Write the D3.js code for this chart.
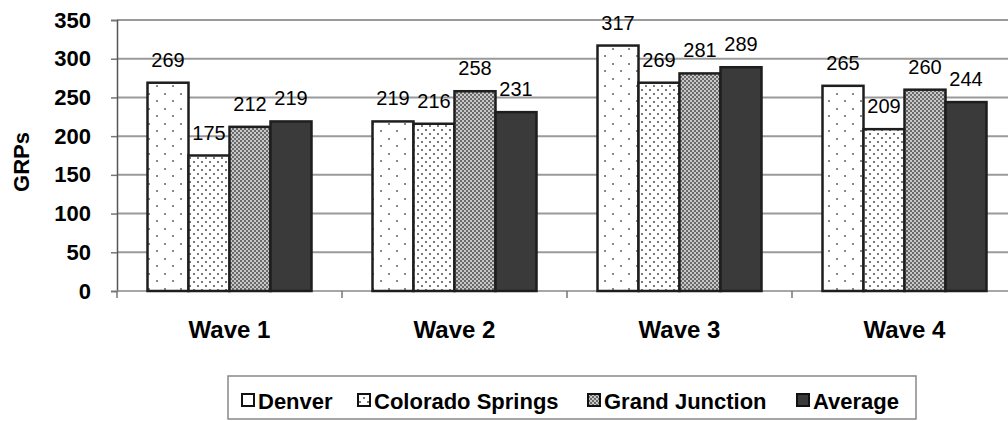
<!DOCTYPE html>
<html>
<head>
<meta charset="utf-8">
<script src="https://cdn.jsdelivr.net/npm/d3@7"></script>
<style>
  html, body { margin: 0; padding: 0; background: #fff; }
  svg { display: block; font-family: "Liberation Sans", Arial, sans-serif; }
</style>
</head>
<body>
<svg id="chart" width="1008" height="421"></svg>
<script>
// Chart data
const waves = ["Wave 1", "Wave 2", "Wave 3", "Wave 4"];
const markets = ["Denver", "Colorado Springs", "Grand Junction", "Average"];
const denver = [269, 219, 317, 265];
const coloradoSprings = [175, 216, 269, 209];
const grandJunction = [212, 258, 281, 260];
const average = [219, 231, 289, 244];
const yTicks = [0, 50, 100, 150, 200, 250, 300, 350];
const yLabel = "GRPs";

const seriesValues = [denver, coloradoSprings, grandJunction, average];

const svg = d3.select("#chart");
const W = 1008, H = 421;
const plot = { left: 117, right: 1017, top: 20, bottom: 291 };

// Fill patterns for each market
const defs = svg.append("defs");
const pDen = defs.append("pattern").attr("id", "pat-den")
  .attr("patternUnits", "userSpaceOnUse").attr("width", 16).attr("height", 15);
pDen.append("rect").attr("width", 16).attr("height", 15).attr("fill", "#fff");
pDen.append("rect").attr("x", 4).attr("y", 3).attr("width", 2).attr("height", 2).attr("fill", "#8a8a8a");
pDen.append("rect").attr("x", 12).attr("y", 10).attr("width", 2).attr("height", 2).attr("fill", "#8a8a8a");

const pCS = defs.append("pattern").attr("id", "pat-cs")
  .attr("patternUnits", "userSpaceOnUse").attr("width", 8).attr("height", 8);
pCS.append("rect").attr("width", 8).attr("height", 8).attr("fill", "#fff");
pCS.append("rect").attr("x", 1).attr("y", 1).attr("width", 2).attr("height", 2).attr("fill", "#7a7a7a");
pCS.append("rect").attr("x", 5).attr("y", 5).attr("width", 2).attr("height", 2).attr("fill", "#7a7a7a");

const pGJ = defs.append("pattern").attr("id", "pat-gj")
  .attr("patternUnits", "userSpaceOnUse").attr("width", 4).attr("height", 4);
pGJ.append("rect").attr("width", 4).attr("height", 4).attr("fill", "#c8c8c8");
pGJ.append("rect").attr("x", 0).attr("y", 0).attr("width", 2).attr("height", 2).attr("fill", "#6a6a6a");
pGJ.append("rect").attr("x", 2).attr("y", 2).attr("width", 2).attr("height", 2).attr("fill", "#6a6a6a");

const fills = ["url(#pat-den)", "url(#pat-cs)", "url(#pat-gj)", "#3a3a3a"];

// Scales
const x0 = d3.scaleBand().domain(waves).range([plot.left, plot.right]).paddingInner(0).paddingOuter(0);
const x1 = d3.scaleBand().domain(markets).range([30.5, x0.bandwidth() - 30.5]).padding(0);
const y = d3.scaleLinear().domain([0, 350]).range([plot.bottom, plot.top]);

// Gridlines
svg.append("g").selectAll("line").data(yTicks.filter(d => d > 0)).join("line")
  .attr("x1", plot.left).attr("x2", W)
  .attr("y1", d => y(d)).attr("y2", d => y(d))
  .attr("stroke", "#9a9a9a").attr("stroke-width", 2);

// Y axis
const yAxis = svg.append("g").attr("transform", `translate(${plot.left},0)`)
  .call(d3.axisLeft(y).tickValues(yTicks).tickSize(6).tickPadding(20));
yAxis.select(".domain").attr("stroke", "#555").attr("stroke-width", 1.5);
yAxis.selectAll(".tick line").attr("stroke", "#777").attr("stroke-width", 1.5);
yAxis.selectAll(".tick text")
  .attr("font-family", "Liberation Sans, Arial, sans-serif")
  .attr("font-size", 22).attr("font-weight", "bold").attr("fill", "#000");

// X axis baseline and category ticks
svg.append("line").attr("x1", plot.left).attr("x2", W)
  .attr("y1", plot.bottom).attr("y2", plot.bottom)
  .attr("stroke", "#888").attr("stroke-width", 1.5);
svg.append("g").selectAll("line").data(waves).join("line")
  .attr("x1", d => x0(d)).attr("x2", d => x0(d))
  .attr("y1", plot.bottom).attr("y2", plot.bottom + 7)
  .attr("stroke", "#777").attr("stroke-width", 1.5);

// Category labels
svg.append("g").selectAll("text").data(waves).join("text")
  .attr("x", d => x0(d) + x0.bandwidth() / 2).attr("y", 338)
  .attr("text-anchor", "middle")
  .attr("font-size", 24).attr("font-weight", "bold").attr("fill", "#000")
  .text(d => d);

// Y axis title
svg.append("text")
  .attr("transform", "translate(29,162) rotate(-90)")
  .attr("text-anchor", "middle")
  .attr("font-size", 22).attr("font-weight", "bold").attr("fill", "#000")
  .text(yLabel);

// Bars
const barData = [];
waves.forEach((w, i) => {
  markets.forEach((m, j) => {
    barData.push({ wave: w, market: m, value: seriesValues[j][i], idx: j });
  });
});

const bars = svg.append("g");
bars.selectAll("rect").data(barData).join("rect")
  .attr("x", d => x0(d.wave) + x1(d.market))
  .attr("width", x1.bandwidth())
  .attr("y", d => y(d.value))
  .attr("height", d => y(0) - y(d.value))
  .attr("fill", d => fills[d.idx])
  .attr("stroke", "#1e1e1e").attr("stroke-width", 2.5);

// Value labels
svg.append("g").selectAll("text").data(barData).join("text")
  .attr("x", d => x0(d.wave) + x1(d.market) + x1.bandwidth() / 2)
  .attr("y", d => y(d.value) - 16)
  .attr("text-anchor", "middle")
  .attr("font-size", 20).attr("fill", "#000")
  .text(d => d.value);

// Legend
const legend = svg.append("g");
legend.append("rect").attr("x", 228).attr("y", 376).attr("width", 688).attr("height", 43)
  .attr("fill", "#fff").attr("stroke", "#888").attr("stroke-width", 1.5);
const legendX = [242, 358, 588, 797];
const items = legend.selectAll("g").data(markets).join("g")
  .attr("transform", (d, i) => `translate(${legendX[i]},0)`);
items.append("rect").attr("x", 0).attr("y", 394).attr("width", 12).attr("height", 12)
  .attr("fill", (d, i) => fills[i]).attr("stroke", "#111").attr("stroke-width", 2);
items.append("text").attr("x", 16).attr("y", 409)
  .attr("font-size", 22).attr("font-weight", "bold").attr("fill", "#000")
  .text(d => d);
</script>
</body>
</html>
